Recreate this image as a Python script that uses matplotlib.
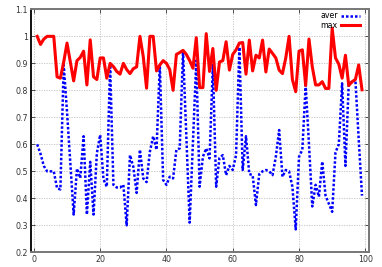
import matplotlib
matplotlib.use("Agg")
import matplotlib.pyplot as plt

x = list(range(1, 100))

aver = [0.60, 0.565, 0.52, 0.50, 0.50, 0.50, 0.437, 0.433, 0.894, 0.72,
        0.53, 0.34, 0.51, 0.475, 0.63, 0.34, 0.535, 0.34, 0.567, 0.635,
        0.47, 0.443, 0.894, 0.45, 0.44, 0.44, 0.45, 0.30, 0.56, 0.517,
        0.42, 0.58, 0.474, 0.46, 0.573, 0.63, 0.58, 0.894, 0.468, 0.45,
        0.48, 0.474, 0.58, 0.585, 0.945, 0.63, 0.31, 0.61, 0.91, 0.443,
        0.554, 0.585, 0.548, 0.894, 0.443, 0.55, 0.56, 0.486, 0.52, 0.505,
        0.56, 0.96, 0.505, 0.63, 0.49, 0.486, 0.375, 0.49, 0.50, 0.505,
        0.50, 0.486, 0.554, 0.653, 0.48, 0.505, 0.50, 0.443, 0.285, 0.554,
        0.58, 0.82, 0.60, 0.37, 0.45, 0.406, 0.536, 0.41, 0.38, 0.35,
        0.57, 0.60, 0.826, 0.52, 0.826, 0.83, 0.84, 0.62, 0.41]

maxv = [1.0, 0.97, 0.99, 1.0, 1.0, 1.0, 0.85, 0.845, 0.905, 0.975,
        0.905, 0.835, 0.91, 0.922, 0.945, 0.82, 0.987, 0.85, 0.84, 0.92,
        0.92, 0.845, 0.90, 0.888, 0.87, 0.86, 0.90, 0.877, 0.862, 0.88,
        0.887, 1.0, 0.925, 0.808, 1.0, 1.0, 0.872, 0.894, 0.91, 0.90,
        0.877, 0.80, 0.933, 0.94, 0.948, 0.933, 0.91, 0.882, 0.995, 0.81,
        0.81, 1.01, 0.87, 0.955, 0.80, 0.905, 0.91, 0.98, 0.875, 0.933,
        0.95, 0.975, 0.977, 0.86, 0.986, 0.872, 0.93, 0.92, 0.986, 0.868,
        0.953, 0.937, 0.92, 0.875, 0.862, 0.92, 1.0, 0.84, 0.795, 0.945,
        0.95, 0.818, 0.99, 0.887, 0.82, 0.82, 0.832, 0.807, 0.807, 1.03,
        0.92, 0.897, 0.845, 0.93, 0.818, 0.832, 0.84, 0.894, 0.802]

xticks = [0, 20, 40, 60, 80, 100]
yticks = [0.2, 0.3, 0.4, 0.5, 0.6, 0.7, 0.8, 0.9, 1.0, 1.1]
yticklabels = ["0.2", "0.3", "0.4", "0.5", "0.6", "0.7", "0.8", "0.9", "1", "1.1"]

fig = plt.figure(figsize=(3.82, 2.67), dpi=100)
ax = fig.add_axes([0.080, 0.055, 0.885, 0.910])

ax.plot(x, aver, color="#0000ff", lw=1.8, linestyle=(0, (1.0, 0.8)), label="aver",
        dash_capstyle="butt")
ax.plot(x, maxv, color="#ff0000", lw=2.2, label="max")

ax.set_xlim(-1, 101)
ax.set_ylim(0.2, 1.1)
ax.set_xticks(xticks)
ax.set_yticks(yticks)
ax.set_yticklabels(yticklabels)
ax.tick_params(axis="both", which="both", direction="in", length=3, width=0.6,
               labelsize=5.7, top=True, right=True, pad=2, colors="#333333")
ax.grid(True, color="#c0c0c0", linestyle=(0, (1.5, 1.5)), linewidth=0.6)
for name, s in ax.spines.items():
    s.set_color("#111111" if name == "left" else "#777777")
    s.set_linewidth(1.4)

ax.legend(loc="upper right", frameon=False, markerfirst=False, fontsize=5.7,
          handlelength=2.4, handletextpad=0.4, labelspacing=0.05,
          borderaxespad=0.0, borderpad=0.0,
          bbox_to_anchor=(1 - 8.7 / 338, 1 - 2.0 / 243))

fig.savefig("out.png", dpi=100)
